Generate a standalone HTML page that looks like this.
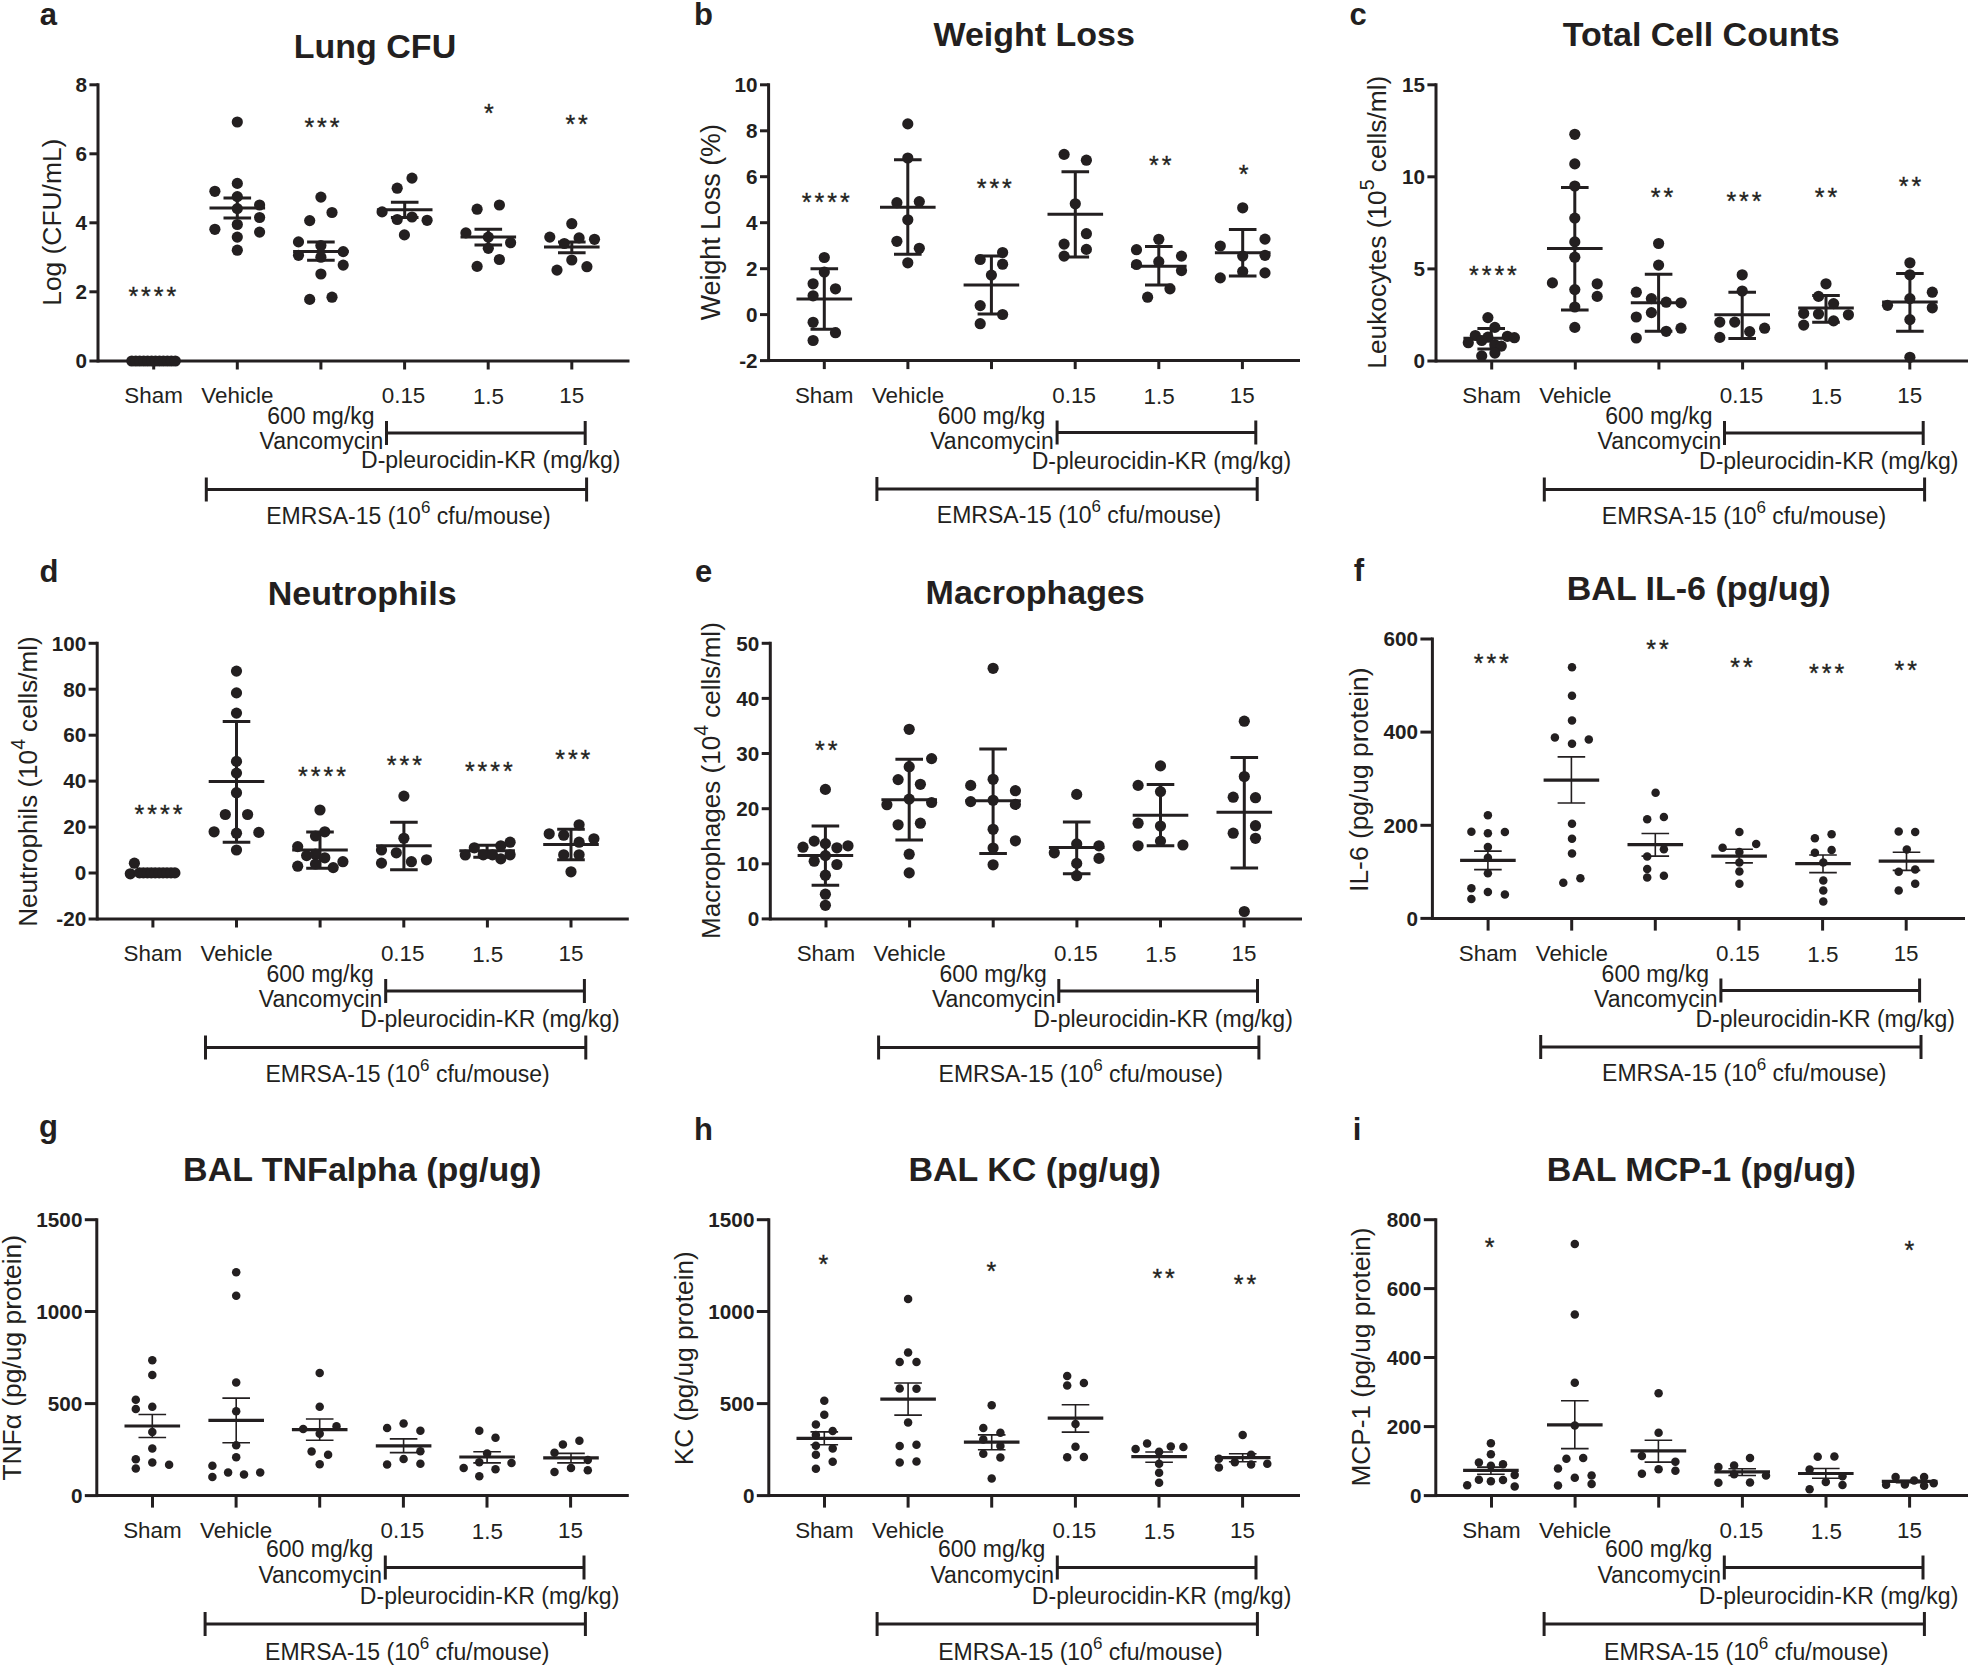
<!DOCTYPE html>
<html lang="en"><head><meta charset="utf-8"><title>Figure</title>
<style>
html,body{margin:0;padding:0;background:#fff}
svg{display:block}
svg text{font-family:"Liberation Sans",Arial,Helvetica,sans-serif;fill:#231f20;stroke:none}
svg circle{stroke:none}
</style></head>
<body>
<svg width="1968" height="1665" viewBox="0 0 1968 1665" fill="#231f20" stroke="#231f20">
<rect x="0" y="0" width="1968" height="1665" fill="#ffffff" stroke="none"/>
<g id="panel-a">
<text x="39.8" y="24.9" font-size="31" font-weight="bold">a</text>
<text x="375" y="58" font-size="34" text-anchor="middle" font-weight="bold">Lung CFU</text>
<path d="M98 83.3V361H629.5" fill="none" stroke-width="3.0"/>
<line x1="89.4" y1="84.8" x2="98" y2="84.8" stroke-width="3.0"/>
<text x="87" y="92" font-size="20.7" text-anchor="end" font-weight="bold">8</text>
<line x1="89.4" y1="153.8" x2="98" y2="153.8" stroke-width="3.0"/>
<text x="87" y="161" font-size="20.7" text-anchor="end" font-weight="bold">6</text>
<line x1="89.4" y1="222.8" x2="98" y2="222.8" stroke-width="3.0"/>
<text x="87" y="230" font-size="20.7" text-anchor="end" font-weight="bold">4</text>
<line x1="89.4" y1="291.8" x2="98" y2="291.8" stroke-width="3.0"/>
<text x="87" y="299" font-size="20.7" text-anchor="end" font-weight="bold">2</text>
<line x1="89.4" y1="361" x2="99.5" y2="361" stroke-width="3.0"/>
<text x="87" y="368.2" font-size="20.7" text-anchor="end" font-weight="bold">0</text>
<line x1="153.7" y1="361" x2="153.7" y2="369.5" stroke-width="3.0"/>
<line x1="237.3" y1="361" x2="237.3" y2="369.5" stroke-width="3.0"/>
<line x1="320.9" y1="361" x2="320.9" y2="369.5" stroke-width="3.0"/>
<line x1="404.6" y1="361" x2="404.6" y2="369.5" stroke-width="3.0"/>
<line x1="488.2" y1="361" x2="488.2" y2="369.5" stroke-width="3.0"/>
<line x1="571.8" y1="361" x2="571.8" y2="369.5" stroke-width="3.0"/>
<text transform="translate(61.2 222.2) rotate(-90)" font-size="26.4" text-anchor="middle">Log (CFU/mL)</text>
<circle cx="131.8" cy="361" r="5.6"/><circle cx="135.8" cy="361" r="5.6"/><circle cx="139.7" cy="361" r="5.6"/><circle cx="143.7" cy="361" r="5.6"/><circle cx="147.6" cy="361" r="5.6"/><circle cx="151.6" cy="361" r="5.6"/><circle cx="155.5" cy="361" r="5.6"/><circle cx="159.5" cy="361" r="5.6"/><circle cx="163.4" cy="361" r="5.6"/><circle cx="167.4" cy="361" r="5.6"/><circle cx="171.3" cy="361" r="5.6"/><circle cx="175.3" cy="361" r="5.6"/>
<path d="M223.5 198H251.1M223.5 218.1H251.1M237.3 198V218.1" fill="none" stroke-width="3.0"/>
<line x1="209.5" y1="208" x2="265.1" y2="208" stroke-width="3.0"/>
<circle cx="237.3" cy="122" r="5.6"/><circle cx="237.3" cy="183.4" r="5.6"/><circle cx="214.9" cy="191.3" r="5.6"/><circle cx="237.3" cy="196.6" r="5.6"/><circle cx="259.6" cy="205" r="5.6"/><circle cx="237.3" cy="208.6" r="5.6"/><circle cx="259.6" cy="217.5" r="5.6"/><circle cx="237.3" cy="224.5" r="5.6"/><circle cx="214.9" cy="229.3" r="5.6"/><circle cx="259.6" cy="232.1" r="5.6"/><circle cx="237.3" cy="237.1" r="5.6"/><circle cx="237.3" cy="250.2" r="5.6"/>
<path d="M307.1 242.1H334.7M307.1 260.3H334.7M320.9 242.1V260.3" fill="none" stroke-width="3.0"/>
<line x1="293.1" y1="251.4" x2="348.7" y2="251.4" stroke-width="3.0"/>
<circle cx="320.9" cy="197.1" r="5.6"/><circle cx="332" cy="212.5" r="5.6"/><circle cx="309.7" cy="220.6" r="5.6"/><circle cx="298.5" cy="241.9" r="5.6"/><circle cx="320.9" cy="245.5" r="5.6"/><circle cx="343.2" cy="251.6" r="5.6"/><circle cx="298.5" cy="255.3" r="5.6"/><circle cx="320.9" cy="257.2" r="5.6"/><circle cx="343.2" cy="265.1" r="5.6"/><circle cx="320.9" cy="274" r="5.6"/><circle cx="332" cy="297.2" r="5.6"/><circle cx="309.7" cy="299.4" r="5.6"/>
<path d="M390.9 202.2H418.5M390.9 217.5H418.5M404.7 202.2V217.5" fill="none" stroke-width="3.0"/>
<line x1="376.9" y1="209.7" x2="432.5" y2="209.7" stroke-width="3.0"/>
<circle cx="412" cy="178.1" r="5.6"/><circle cx="397.2" cy="188.2" r="5.6"/><circle cx="382.1" cy="211.9" r="5.6"/><circle cx="397.2" cy="219.5" r="5.6"/><circle cx="412" cy="217" r="5.6"/><circle cx="427.1" cy="220.3" r="5.6"/><circle cx="404.4" cy="234.9" r="5.6"/>
<path d="M474.5 229.3H502.1M474.5 244.9H502.1M488.3 229.3V244.9" fill="none" stroke-width="3.0"/>
<line x1="460.5" y1="237.1" x2="516.1" y2="237.1" stroke-width="3.0"/>
<circle cx="499.4" cy="205" r="5.6"/><circle cx="477.1" cy="209.2" r="5.6"/><circle cx="465.9" cy="232.9" r="5.6"/><circle cx="488.3" cy="237.1" r="5.6"/><circle cx="510.6" cy="242.7" r="5.6"/><circle cx="488.3" cy="248.3" r="5.6"/><circle cx="499.4" cy="259.5" r="5.6"/><circle cx="477.1" cy="266.4" r="5.6"/>
<path d="M558 241.9H585.6M558 252.8H585.6M571.8 241.9V252.8" fill="none" stroke-width="3.0"/>
<line x1="544" y1="246.9" x2="599.6" y2="246.9" stroke-width="3.0"/>
<circle cx="571.8" cy="223.7" r="5.6"/><circle cx="549.8" cy="237.1" r="5.6"/><circle cx="579.1" cy="237.9" r="5.6"/><circle cx="594.5" cy="239.3" r="5.6"/><circle cx="564.3" cy="243.5" r="5.6"/><circle cx="571.8" cy="260" r="5.6"/><circle cx="586.9" cy="266.7" r="5.6"/><circle cx="557" cy="270.1" r="5.6"/>
<text x="128.4" y="305.2" font-size="25" letter-spacing="2.97" style="stroke:#231f20;stroke-width:0.35px">****</text>
<text x="304.4" y="135.9" font-size="25" letter-spacing="2.97" style="stroke:#231f20;stroke-width:0.35px">***</text>
<text x="483.9" y="121.9" font-size="25" letter-spacing="2.97" style="stroke:#231f20;stroke-width:0.35px">*</text>
<text x="565.4" y="133.1" font-size="25" letter-spacing="2.97" style="stroke:#231f20;stroke-width:0.35px">**</text>
<text x="153.6" y="402.9" font-size="22.4" text-anchor="middle">Sham</text>
<text x="237.4" y="402.9" font-size="22.4" text-anchor="middle">Vehicle</text>
<text x="403.5" y="402.9" font-size="22.4" text-anchor="middle">0.15</text>
<text x="488.5" y="404.2" font-size="22.4" text-anchor="middle">1.5</text>
<text x="571.7" y="402.9" font-size="22.4" text-anchor="middle">15</text>
<text x="320.9" y="424" font-size="23" text-anchor="middle">600 mg/kg</text>
<text x="321.4" y="449.2" font-size="23" text-anchor="middle">Vancomycin</text>
<text x="490.8" y="467.8" font-size="23" text-anchor="middle">D-pleurocidin-KR (mg/kg)</text>
<path d="M386.5 421V445M386.5 433H585.2M585.2 421V445" fill="none" stroke-width="3.0"/>
<path d="M206.3 477.5V501.5M206.3 489.5H586.6M586.6 477.5V501.5" fill="none" stroke-width="3.0"/>
<text x="408.4" y="523.6" font-size="23" text-anchor="middle">EMRSA-15 (10<tspan font-size="17" dy="-10.8">6</tspan><tspan dy="10.8"> cfu/mouse)</tspan></text>
</g>
<g id="panel-b">
<text x="694" y="24.7" font-size="31" font-weight="bold">b</text>
<text x="1034.2" y="46" font-size="34" text-anchor="middle" font-weight="bold">Weight Loss</text>
<path d="M768.6 83.3V360.6H1300" fill="none" stroke-width="3.0"/>
<line x1="760" y1="84.8" x2="768.6" y2="84.8" stroke-width="3.0"/>
<text x="757.6" y="92" font-size="20.7" text-anchor="end" font-weight="bold">10</text>
<line x1="760" y1="130.8" x2="768.6" y2="130.8" stroke-width="3.0"/>
<text x="757.6" y="138" font-size="20.7" text-anchor="end" font-weight="bold">8</text>
<line x1="760" y1="176.7" x2="768.6" y2="176.7" stroke-width="3.0"/>
<text x="757.6" y="183.9" font-size="20.7" text-anchor="end" font-weight="bold">6</text>
<line x1="760" y1="222.7" x2="768.6" y2="222.7" stroke-width="3.0"/>
<text x="757.6" y="229.9" font-size="20.7" text-anchor="end" font-weight="bold">4</text>
<line x1="760" y1="268.7" x2="768.6" y2="268.7" stroke-width="3.0"/>
<text x="757.6" y="275.9" font-size="20.7" text-anchor="end" font-weight="bold">2</text>
<line x1="760" y1="314.6" x2="768.6" y2="314.6" stroke-width="3.0"/>
<text x="757.6" y="321.8" font-size="20.7" text-anchor="end" font-weight="bold">0</text>
<line x1="760" y1="360.6" x2="770.1" y2="360.6" stroke-width="3.0"/>
<text x="757.6" y="367.8" font-size="20.7" text-anchor="end" font-weight="bold">-2</text>
<line x1="824.3" y1="360.6" x2="824.3" y2="369.1" stroke-width="3.0"/>
<line x1="907.9" y1="360.6" x2="907.9" y2="369.1" stroke-width="3.0"/>
<line x1="991.5" y1="360.6" x2="991.5" y2="369.1" stroke-width="3.0"/>
<line x1="1075.2" y1="360.6" x2="1075.2" y2="369.1" stroke-width="3.0"/>
<line x1="1158.8" y1="360.6" x2="1158.8" y2="369.1" stroke-width="3.0"/>
<line x1="1242.4" y1="360.6" x2="1242.4" y2="369.1" stroke-width="3.0"/>
<text transform="translate(719.6 222.2) rotate(-90)" font-size="26.8" text-anchor="middle">Weight Loss (%)</text>
<path d="M810.5 268.7H838.1M810.5 329.3H838.1M824.3 268.7V329.3" fill="none" stroke-width="3.0"/>
<line x1="796.5" y1="299.1" x2="852.1" y2="299.1" stroke-width="3.0"/>
<circle cx="824.3" cy="257.5" r="5.6"/><circle cx="824.3" cy="272" r="5.6"/><circle cx="813.1" cy="283.8" r="5.6"/><circle cx="835.5" cy="288.8" r="5.6"/><circle cx="813.1" cy="295.8" r="5.6"/><circle cx="813.1" cy="322.3" r="5.6"/><circle cx="835.5" cy="332.7" r="5.6"/><circle cx="813.1" cy="340.5" r="5.6"/>
<path d="M894 159.7H921.6M894 254.2H921.6M907.8 159.7V254.2" fill="none" stroke-width="3.0"/>
<line x1="880" y1="207.2" x2="935.6" y2="207.2" stroke-width="3.0"/>
<circle cx="907.8" cy="123.9" r="5.6"/><circle cx="907.8" cy="158" r="5.6"/><circle cx="896.9" cy="202.7" r="5.6"/><circle cx="919.3" cy="201.6" r="5.6"/><circle cx="907.8" cy="219.8" r="5.6"/><circle cx="896.9" cy="241.3" r="5.6"/><circle cx="919.3" cy="248.3" r="5.6"/><circle cx="907.8" cy="262.8" r="5.6"/>
<path d="M977.6 256.1H1005.2M977.6 314H1005.2M991.4 256.1V314" fill="none" stroke-width="3.0"/>
<line x1="963.6" y1="284.9" x2="1019.2" y2="284.9" stroke-width="3.0"/>
<circle cx="1002.6" cy="252.5" r="5.6"/><circle cx="980.2" cy="259.5" r="5.6"/><circle cx="1002.6" cy="264.2" r="5.6"/><circle cx="991.4" cy="275.1" r="5.6"/><circle cx="980.2" cy="305.6" r="5.6"/><circle cx="1002.6" cy="314.5" r="5.6"/><circle cx="980.2" cy="323.7" r="5.6"/>
<path d="M1061.5 171.7H1089.1M1061.5 256.9H1089.1M1075.3 171.7V256.9" fill="none" stroke-width="3.0"/>
<line x1="1047.5" y1="214.2" x2="1103.1" y2="214.2" stroke-width="3.0"/>
<circle cx="1064.1" cy="154.4" r="5.6"/><circle cx="1086.4" cy="160.2" r="5.6"/><circle cx="1075.3" cy="203.8" r="5.6"/><circle cx="1086.4" cy="233.7" r="5.6"/><circle cx="1064.1" cy="244.1" r="5.6"/><circle cx="1086.4" cy="249.4" r="5.6"/><circle cx="1064.1" cy="256.1" r="5.6"/>
<path d="M1145 246.6H1172.6M1145 284.9H1172.6M1158.8 246.6V284.9" fill="none" stroke-width="3.0"/>
<line x1="1131" y1="266.2" x2="1186.6" y2="266.2" stroke-width="3.0"/>
<circle cx="1158.8" cy="239.3" r="5.6"/><circle cx="1136.5" cy="249.7" r="5.6"/><circle cx="1181.5" cy="256.1" r="5.6"/><circle cx="1158.8" cy="261.7" r="5.6"/><circle cx="1136.5" cy="264.5" r="5.6"/><circle cx="1181.5" cy="270.6" r="5.6"/><circle cx="1170" cy="288.8" r="5.6"/><circle cx="1147.6" cy="297.2" r="5.6"/>
<path d="M1228.9 229.6H1256.5M1228.9 276H1256.5M1242.7 229.6V276" fill="none" stroke-width="3.0"/>
<line x1="1214.9" y1="252.8" x2="1270.5" y2="252.8" stroke-width="3.0"/>
<circle cx="1242.7" cy="207.8" r="5.6"/><circle cx="1265" cy="239.1" r="5.6"/><circle cx="1220.3" cy="246" r="5.6"/><circle cx="1242.7" cy="256.1" r="5.6"/><circle cx="1265" cy="255.3" r="5.6"/><circle cx="1242.7" cy="271.5" r="5.6"/><circle cx="1265" cy="272.9" r="5.6"/><circle cx="1220.3" cy="277.9" r="5.6"/>
<text x="801.8" y="211.4" font-size="25" letter-spacing="2.97" style="stroke:#231f20;stroke-width:0.35px">****</text>
<text x="976.7" y="197.4" font-size="25" letter-spacing="2.97" style="stroke:#231f20;stroke-width:0.35px">***</text>
<text x="1149" y="173.6" font-size="25" letter-spacing="2.97" style="stroke:#231f20;stroke-width:0.35px">**</text>
<text x="1238.7" y="182.6" font-size="25" letter-spacing="2.97" style="stroke:#231f20;stroke-width:0.35px">*</text>
<text x="824.2" y="402.5" font-size="22.4" text-anchor="middle">Sham</text>
<text x="908" y="402.5" font-size="22.4" text-anchor="middle">Vehicle</text>
<text x="1074.1" y="402.5" font-size="22.4" text-anchor="middle">0.15</text>
<text x="1159.1" y="403.8" font-size="22.4" text-anchor="middle">1.5</text>
<text x="1242.3" y="402.5" font-size="22.4" text-anchor="middle">15</text>
<text x="991.5" y="423.6" font-size="23" text-anchor="middle">600 mg/kg</text>
<text x="992" y="448.8" font-size="23" text-anchor="middle">Vancomycin</text>
<text x="1161.4" y="469" font-size="23" text-anchor="middle">D-pleurocidin-KR (mg/kg)</text>
<path d="M1057.1 420.6V444.6M1057.1 432.6H1255.8M1255.8 420.6V444.6" fill="none" stroke-width="3.0"/>
<path d="M876.9 477.1V501.1M876.9 489.1H1257.2M1257.2 477.1V501.1" fill="none" stroke-width="3.0"/>
<text x="1079" y="523.2" font-size="23" text-anchor="middle">EMRSA-15 (10<tspan font-size="17" dy="-10.8">6</tspan><tspan dy="10.8"> cfu/mouse)</tspan></text>
</g>
<g id="panel-c">
<text x="1349.4" y="24.7" font-size="31" font-weight="bold">c</text>
<text x="1701.2" y="46.3" font-size="34" text-anchor="middle" font-weight="bold">Total Cell Counts</text>
<path d="M1436 83.3V361H1968" fill="none" stroke-width="3.0"/>
<line x1="1427.4" y1="84.8" x2="1436" y2="84.8" stroke-width="3.0"/>
<text x="1425" y="92" font-size="20.7" text-anchor="end" font-weight="bold">15</text>
<line x1="1427.4" y1="176.8" x2="1436" y2="176.8" stroke-width="3.0"/>
<text x="1425" y="184" font-size="20.7" text-anchor="end" font-weight="bold">10</text>
<line x1="1427.4" y1="268.9" x2="1436" y2="268.9" stroke-width="3.0"/>
<text x="1425" y="276.1" font-size="20.7" text-anchor="end" font-weight="bold">5</text>
<line x1="1427.4" y1="361" x2="1437.5" y2="361" stroke-width="3.0"/>
<text x="1425" y="368.2" font-size="20.7" text-anchor="end" font-weight="bold">0</text>
<line x1="1491.7" y1="361" x2="1491.7" y2="369.5" stroke-width="3.0"/>
<line x1="1575.3" y1="361" x2="1575.3" y2="369.5" stroke-width="3.0"/>
<line x1="1658.9" y1="361" x2="1658.9" y2="369.5" stroke-width="3.0"/>
<line x1="1742.6" y1="361" x2="1742.6" y2="369.5" stroke-width="3.0"/>
<line x1="1826.2" y1="361" x2="1826.2" y2="369.5" stroke-width="3.0"/>
<line x1="1909.8" y1="361" x2="1909.8" y2="369.5" stroke-width="3.0"/>
<text transform="translate(1385.8 222.2) rotate(-90)" font-size="26.3" text-anchor="middle">Leukocytes (10<tspan font-size="19.5" dy="-11.6">5</tspan><tspan dy="11.6"> cells/ml)</tspan></text>
<path d="M1477.4 328.5H1505M1477.4 348.9H1505M1491.2 328.5V348.9" fill="none" stroke-width="3.0"/>
<line x1="1463.4" y1="338.3" x2="1519" y2="338.3" stroke-width="3.0"/>
<circle cx="1487.9" cy="317.6" r="5.6"/><circle cx="1494.9" cy="327.4" r="5.6"/><circle cx="1475.3" cy="335.5" r="5.6"/><circle cx="1507.4" cy="336.3" r="5.6"/><circle cx="1514.4" cy="337.7" r="5.6"/><circle cx="1487.9" cy="337.2" r="5.6"/><circle cx="1481.7" cy="340.5" r="5.6"/><circle cx="1468.3" cy="342.7" r="5.6"/><circle cx="1494.9" cy="344.7" r="5.6"/><circle cx="1501.3" cy="346.1" r="5.6"/><circle cx="1494.9" cy="353.1" r="5.6"/><circle cx="1481.7" cy="355.9" r="5.6"/>
<path d="M1561 187.4H1588.6M1561 310H1588.6M1574.8 187.4V310" fill="none" stroke-width="3.0"/>
<line x1="1547" y1="248.6" x2="1602.6" y2="248.6" stroke-width="3.0"/>
<circle cx="1574.8" cy="134.3" r="5.6"/><circle cx="1574.8" cy="163.9" r="5.6"/><circle cx="1574.8" cy="186" r="5.6"/><circle cx="1574.8" cy="218.1" r="5.6"/><circle cx="1574.8" cy="241.9" r="5.6"/><circle cx="1574.8" cy="257.2" r="5.6"/><circle cx="1552.4" cy="282.9" r="5.6"/><circle cx="1597.2" cy="283.8" r="5.6"/><circle cx="1574.8" cy="289.6" r="5.6"/><circle cx="1597.2" cy="296.4" r="5.6"/><circle cx="1574.8" cy="307" r="5.6"/><circle cx="1574.8" cy="327.4" r="5.6"/>
<path d="M1644.8 274.3H1672.4M1644.8 331.3H1672.4M1658.6 274.3V331.3" fill="none" stroke-width="3.0"/>
<line x1="1630.8" y1="302.8" x2="1686.4" y2="302.8" stroke-width="3.0"/>
<circle cx="1658.6" cy="243.5" r="5.6"/><circle cx="1658.6" cy="265.1" r="5.6"/><circle cx="1636.3" cy="292.2" r="5.6"/><circle cx="1651.4" cy="298.6" r="5.6"/><circle cx="1666.2" cy="302.2" r="5.6"/><circle cx="1681" cy="302.8" r="5.6"/><circle cx="1651.4" cy="312.6" r="5.6"/><circle cx="1636.3" cy="317" r="5.6"/><circle cx="1681" cy="328.2" r="5.6"/><circle cx="1666.2" cy="331.3" r="5.6"/><circle cx="1636.3" cy="338" r="5.6"/>
<path d="M1728.4 292.2H1756M1728.4 338.6H1756M1742.2 292.2V338.6" fill="none" stroke-width="3.0"/>
<line x1="1714.4" y1="314.8" x2="1770" y2="314.8" stroke-width="3.0"/>
<circle cx="1742.2" cy="274.8" r="5.6"/><circle cx="1742.2" cy="291" r="5.6"/><circle cx="1719.8" cy="322.1" r="5.6"/><circle cx="1734.7" cy="322.1" r="5.6"/><circle cx="1764.6" cy="328.2" r="5.6"/><circle cx="1749.7" cy="331.6" r="5.6"/><circle cx="1719.8" cy="337.4" r="5.6"/>
<path d="M1812.2 295.5H1839.8M1812.2 322.3H1839.8M1826 295.5V322.3" fill="none" stroke-width="3.0"/>
<line x1="1798.2" y1="308.1" x2="1853.8" y2="308.1" stroke-width="3.0"/>
<circle cx="1826" cy="283.8" r="5.6"/><circle cx="1818.5" cy="296.4" r="5.6"/><circle cx="1833.6" cy="303.6" r="5.6"/><circle cx="1803.7" cy="313.4" r="5.6"/><circle cx="1818.5" cy="314" r="5.6"/><circle cx="1848.4" cy="314.8" r="5.6"/><circle cx="1833.6" cy="320.9" r="5.6"/><circle cx="1803.7" cy="325.1" r="5.6"/>
<path d="M1896.1 273.4H1923.7M1896.1 331.3H1923.7M1909.9 273.4V331.3" fill="none" stroke-width="3.0"/>
<line x1="1882.1" y1="301.9" x2="1937.7" y2="301.9" stroke-width="3.0"/>
<circle cx="1909.9" cy="262.8" r="5.6"/><circle cx="1909.9" cy="274.8" r="5.6"/><circle cx="1932.3" cy="292.2" r="5.6"/><circle cx="1909.9" cy="298.6" r="5.6"/><circle cx="1887.5" cy="305.3" r="5.6"/><circle cx="1932.3" cy="307.8" r="5.6"/><circle cx="1909.9" cy="319.6" r="5.6"/><circle cx="1909.9" cy="357.3" r="5.6"/>
<text x="1469" y="283.5" font-size="25" letter-spacing="2.97" style="stroke:#231f20;stroke-width:0.35px">****</text>
<text x="1650.8" y="206.3" font-size="25" letter-spacing="2.97" style="stroke:#231f20;stroke-width:0.35px">**</text>
<text x="1726.4" y="210" font-size="25" letter-spacing="2.97" style="stroke:#231f20;stroke-width:0.35px">***</text>
<text x="1814.8" y="206.3" font-size="25" letter-spacing="2.97" style="stroke:#231f20;stroke-width:0.35px">**</text>
<text x="1898.7" y="194.6" font-size="25" letter-spacing="2.97" style="stroke:#231f20;stroke-width:0.35px">**</text>
<text x="1491.6" y="402.9" font-size="22.4" text-anchor="middle">Sham</text>
<text x="1575.4" y="402.9" font-size="22.4" text-anchor="middle">Vehicle</text>
<text x="1741.5" y="402.9" font-size="22.4" text-anchor="middle">0.15</text>
<text x="1826.5" y="404.2" font-size="22.4" text-anchor="middle">1.5</text>
<text x="1909.7" y="402.9" font-size="22.4" text-anchor="middle">15</text>
<text x="1658.9" y="424" font-size="23" text-anchor="middle">600 mg/kg</text>
<text x="1659.4" y="449.2" font-size="23" text-anchor="middle">Vancomycin</text>
<text x="1828.8" y="469.4" font-size="23" text-anchor="middle">D-pleurocidin-KR (mg/kg)</text>
<path d="M1724.5 421V445M1724.5 433H1923.2M1923.2 421V445" fill="none" stroke-width="3.0"/>
<path d="M1544.3 477.5V501.5M1544.3 489.5H1924.6M1924.6 477.5V501.5" fill="none" stroke-width="3.0"/>
<text x="1744" y="523.6" font-size="23" text-anchor="middle">EMRSA-15 (10<tspan font-size="17" dy="-10.8">6</tspan><tspan dy="10.8"> cfu/mouse)</tspan></text>
</g>
<g id="panel-d">
<text x="39.6" y="582.4" font-size="31" font-weight="bold">d</text>
<text x="362.2" y="605.3" font-size="34" text-anchor="middle" font-weight="bold">Neutrophils</text>
<path d="M97.2 641.8V919H628.8" fill="none" stroke-width="3.0"/>
<line x1="88.6" y1="643.3" x2="97.2" y2="643.3" stroke-width="3.0"/>
<text x="86.2" y="650.5" font-size="20.7" text-anchor="end" font-weight="bold">100</text>
<line x1="88.6" y1="689.2" x2="97.2" y2="689.2" stroke-width="3.0"/>
<text x="86.2" y="696.5" font-size="20.7" text-anchor="end" font-weight="bold">80</text>
<line x1="88.6" y1="735.2" x2="97.2" y2="735.2" stroke-width="3.0"/>
<text x="86.2" y="742.4" font-size="20.7" text-anchor="end" font-weight="bold">60</text>
<line x1="88.6" y1="781.1" x2="97.2" y2="781.1" stroke-width="3.0"/>
<text x="86.2" y="788.4" font-size="20.7" text-anchor="end" font-weight="bold">40</text>
<line x1="88.6" y1="827.1" x2="97.2" y2="827.1" stroke-width="3.0"/>
<text x="86.2" y="834.3" font-size="20.7" text-anchor="end" font-weight="bold">20</text>
<line x1="88.6" y1="873" x2="97.2" y2="873" stroke-width="3.0"/>
<text x="86.2" y="880.2" font-size="20.7" text-anchor="end" font-weight="bold">0</text>
<line x1="88.6" y1="919" x2="98.7" y2="919" stroke-width="3.0"/>
<text x="86.2" y="926.2" font-size="20.7" text-anchor="end" font-weight="bold">-20</text>
<line x1="152.9" y1="919" x2="152.9" y2="927.5" stroke-width="3.0"/>
<line x1="236.5" y1="919" x2="236.5" y2="927.5" stroke-width="3.0"/>
<line x1="320.1" y1="919" x2="320.1" y2="927.5" stroke-width="3.0"/>
<line x1="403.8" y1="919" x2="403.8" y2="927.5" stroke-width="3.0"/>
<line x1="487.4" y1="919" x2="487.4" y2="927.5" stroke-width="3.0"/>
<line x1="571" y1="919" x2="571" y2="927.5" stroke-width="3.0"/>
<text transform="translate(36.5 781.5) rotate(-90)" font-size="26.1" text-anchor="middle">Neutrophils (10<tspan font-size="19.3" dy="-11.5">4</tspan><tspan dy="11.5"> cells/ml)</tspan></text>
<circle cx="134.4" cy="863.2" r="5.6"/><circle cx="130.3" cy="873.8" r="5.6"/><circle cx="139.5" cy="872.9" r="5.6"/><circle cx="143.4" cy="872.9" r="5.6"/><circle cx="147.4" cy="872.9" r="5.6"/><circle cx="151.3" cy="872.9" r="5.6"/><circle cx="155.2" cy="872.9" r="5.6"/><circle cx="159.2" cy="872.9" r="5.6"/><circle cx="163.1" cy="872.9" r="5.6"/><circle cx="167" cy="872.9" r="5.6"/><circle cx="171" cy="872.9" r="5.6"/><circle cx="174.9" cy="872.9" r="5.6"/>
<path d="M222.7 721.4H250.3M222.7 842.2H250.3M236.5 721.4V842.2" fill="none" stroke-width="3.0"/>
<line x1="208.7" y1="781.5" x2="264.3" y2="781.5" stroke-width="3.0"/>
<circle cx="236.5" cy="671.1" r="5.6"/><circle cx="236.5" cy="692.9" r="5.6"/><circle cx="236.5" cy="713.1" r="5.6"/><circle cx="236.5" cy="761.4" r="5.6"/><circle cx="236.5" cy="773.1" r="5.6"/><circle cx="236.5" cy="792.7" r="5.6"/><circle cx="225.3" cy="814.5" r="5.6"/><circle cx="247.6" cy="814.5" r="5.6"/><circle cx="214.1" cy="831.8" r="5.6"/><circle cx="236.5" cy="833.2" r="5.6"/><circle cx="258.8" cy="832.4" r="5.6"/><circle cx="236.5" cy="850" r="5.6"/>
<path d="M306.2 832.1H333.8M306.2 868.2H333.8M320 832.1V868.2" fill="none" stroke-width="3.0"/>
<line x1="292.2" y1="850" x2="347.8" y2="850" stroke-width="3.0"/>
<circle cx="320" cy="810" r="5.6"/><circle cx="324.8" cy="831.8" r="5.6"/><circle cx="315.5" cy="836" r="5.6"/><circle cx="297.7" cy="846.6" r="5.6"/><circle cx="306.6" cy="855.6" r="5.6"/><circle cx="315.5" cy="854.2" r="5.6"/><circle cx="324.8" cy="857.8" r="5.6"/><circle cx="342.9" cy="861.7" r="5.6"/><circle cx="315.5" cy="864" r="5.6"/><circle cx="297.7" cy="866.2" r="5.6"/><circle cx="333.2" cy="867.6" r="5.6"/>
<path d="M390.1 822.3H417.7M390.1 869.8H417.7M403.9 822.3V869.8" fill="none" stroke-width="3.0"/>
<line x1="376.1" y1="845.8" x2="431.7" y2="845.8" stroke-width="3.0"/>
<circle cx="403.9" cy="796.1" r="5.6"/><circle cx="403.9" cy="838.3" r="5.6"/><circle cx="381.5" cy="850" r="5.6"/><circle cx="396.3" cy="852.8" r="5.6"/><circle cx="426.5" cy="859.8" r="5.6"/><circle cx="411.4" cy="861.7" r="5.6"/><circle cx="381.5" cy="863.1" r="5.6"/>
<path d="M473.3 845.2H500.9M473.3 857.3H500.9M487.1 845.2V857.3" fill="none" stroke-width="3.0"/>
<line x1="459.3" y1="850.8" x2="514.9" y2="850.8" stroke-width="3.0"/>
<circle cx="510.1" cy="842.2" r="5.6"/><circle cx="500.8" cy="845.8" r="5.6"/><circle cx="474.3" cy="847.8" r="5.6"/><circle cx="465.3" cy="855" r="5.6"/><circle cx="483.2" cy="854.8" r="5.6"/><circle cx="492.5" cy="854.8" r="5.6"/><circle cx="510.1" cy="854.8" r="5.6"/><circle cx="500.8" cy="858.9" r="5.6"/>
<path d="M557.2 829.3H584.8M557.2 859.8H584.8M571 829.3V859.8" fill="none" stroke-width="3.0"/>
<line x1="543.2" y1="844.4" x2="598.8" y2="844.4" stroke-width="3.0"/>
<circle cx="579.1" cy="824.8" r="5.6"/><circle cx="549.2" cy="833.8" r="5.6"/><circle cx="563.7" cy="835.2" r="5.6"/><circle cx="593.9" cy="838.8" r="5.6"/><circle cx="579.1" cy="842.2" r="5.6"/><circle cx="563.7" cy="854.8" r="5.6"/><circle cx="579.1" cy="854.8" r="5.6"/><circle cx="571" cy="871.8" r="5.6"/>
<text x="134.6" y="822.9" font-size="25" letter-spacing="2.97" style="stroke:#231f20;stroke-width:0.35px">****</text>
<text x="298.1" y="784.6" font-size="25" letter-spacing="2.97" style="stroke:#231f20;stroke-width:0.35px">****</text>
<text x="386.8" y="774" font-size="25" letter-spacing="2.97" style="stroke:#231f20;stroke-width:0.35px">***</text>
<text x="464.9" y="779.6" font-size="25" letter-spacing="2.97" style="stroke:#231f20;stroke-width:0.35px">****</text>
<text x="555.2" y="767.8" font-size="25" letter-spacing="2.97" style="stroke:#231f20;stroke-width:0.35px">***</text>
<text x="152.8" y="960.9" font-size="22.4" text-anchor="middle">Sham</text>
<text x="236.6" y="960.9" font-size="22.4" text-anchor="middle">Vehicle</text>
<text x="402.7" y="960.9" font-size="22.4" text-anchor="middle">0.15</text>
<text x="487.7" y="962.2" font-size="22.4" text-anchor="middle">1.5</text>
<text x="570.9" y="960.9" font-size="22.4" text-anchor="middle">15</text>
<text x="320.1" y="982" font-size="23" text-anchor="middle">600 mg/kg</text>
<text x="320.6" y="1007.2" font-size="23" text-anchor="middle">Vancomycin</text>
<text x="490" y="1027.4" font-size="23" text-anchor="middle">D-pleurocidin-KR (mg/kg)</text>
<path d="M385.7 979V1003M385.7 991H584.4M584.4 979V1003" fill="none" stroke-width="3.0"/>
<path d="M205.5 1035.5V1059.5M205.5 1047.5H585.8M585.8 1035.5V1059.5" fill="none" stroke-width="3.0"/>
<text x="407.6" y="1081.6" font-size="23" text-anchor="middle">EMRSA-15 (10<tspan font-size="17" dy="-10.8">6</tspan><tspan dy="10.8"> cfu/mouse)</tspan></text>
</g>
<g id="panel-e">
<text x="695" y="582.4" font-size="31" font-weight="bold">e</text>
<text x="1035.2" y="603.6" font-size="34" text-anchor="middle" font-weight="bold">Macrophages</text>
<path d="M770.3 641.8V918.9H1302" fill="none" stroke-width="3.0"/>
<line x1="761.7" y1="643.3" x2="770.3" y2="643.3" stroke-width="3.0"/>
<text x="759.3" y="650.5" font-size="20.7" text-anchor="end" font-weight="bold">50</text>
<line x1="761.7" y1="698.4" x2="770.3" y2="698.4" stroke-width="3.0"/>
<text x="759.3" y="705.6" font-size="20.7" text-anchor="end" font-weight="bold">40</text>
<line x1="761.7" y1="753.5" x2="770.3" y2="753.5" stroke-width="3.0"/>
<text x="759.3" y="760.7" font-size="20.7" text-anchor="end" font-weight="bold">30</text>
<line x1="761.7" y1="808.7" x2="770.3" y2="808.7" stroke-width="3.0"/>
<text x="759.3" y="815.9" font-size="20.7" text-anchor="end" font-weight="bold">20</text>
<line x1="761.7" y1="863.8" x2="770.3" y2="863.8" stroke-width="3.0"/>
<text x="759.3" y="871" font-size="20.7" text-anchor="end" font-weight="bold">10</text>
<line x1="761.7" y1="918.9" x2="771.8" y2="918.9" stroke-width="3.0"/>
<text x="759.3" y="926.1" font-size="20.7" text-anchor="end" font-weight="bold">0</text>
<line x1="826" y1="918.9" x2="826" y2="927.4" stroke-width="3.0"/>
<line x1="909.6" y1="918.9" x2="909.6" y2="927.4" stroke-width="3.0"/>
<line x1="993.2" y1="918.9" x2="993.2" y2="927.4" stroke-width="3.0"/>
<line x1="1076.9" y1="918.9" x2="1076.9" y2="927.4" stroke-width="3.0"/>
<line x1="1160.5" y1="918.9" x2="1160.5" y2="927.4" stroke-width="3.0"/>
<line x1="1244.1" y1="918.9" x2="1244.1" y2="927.4" stroke-width="3.0"/>
<text transform="translate(719.6 780.5) rotate(-90)" font-size="26.1" text-anchor="middle">Macrophages (10<tspan font-size="19.3" dy="-11.5">4</tspan><tspan dy="11.5"> cells/ml)</tspan></text>
<path d="M811.6 826H839.2M811.6 885.2H839.2M825.4 826V885.2" fill="none" stroke-width="3.0"/>
<line x1="797.6" y1="855.6" x2="853.2" y2="855.6" stroke-width="3.0"/>
<circle cx="825.4" cy="789.4" r="5.6"/><circle cx="814.2" cy="841.1" r="5.6"/><circle cx="825.4" cy="843.6" r="5.6"/><circle cx="803" cy="847.2" r="5.6"/><circle cx="836.9" cy="847.8" r="5.6"/><circle cx="848" cy="845.8" r="5.6"/><circle cx="825.4" cy="855.6" r="5.6"/><circle cx="814.2" cy="861.2" r="5.6"/><circle cx="836.9" cy="864.5" r="5.6"/><circle cx="825.4" cy="875.2" r="5.6"/><circle cx="825.4" cy="894.2" r="5.6"/><circle cx="825.4" cy="905.3" r="5.6"/>
<path d="M895.4 759.2H923M895.4 839.9H923M909.2 759.2V839.9" fill="none" stroke-width="3.0"/>
<line x1="881.4" y1="799.7" x2="937" y2="799.7" stroke-width="3.0"/>
<circle cx="909.2" cy="729.3" r="5.6"/><circle cx="931.6" cy="758.6" r="5.6"/><circle cx="909.2" cy="766.7" r="5.6"/><circle cx="898.1" cy="779.6" r="5.6"/><circle cx="920.4" cy="784.3" r="5.6"/><circle cx="909.2" cy="799.1" r="5.6"/><circle cx="886.9" cy="804.7" r="5.6"/><circle cx="931.6" cy="802.5" r="5.6"/><circle cx="898.1" cy="824.8" r="5.6"/><circle cx="920.4" cy="823.2" r="5.6"/><circle cx="909.2" cy="854.2" r="5.6"/><circle cx="909.2" cy="872.9" r="5.6"/>
<path d="M979.3 749.1H1006.9M979.3 853.4H1006.9M993.1 749.1V853.4" fill="none" stroke-width="3.0"/>
<line x1="965.3" y1="800.8" x2="1020.9" y2="800.8" stroke-width="3.0"/>
<circle cx="993.1" cy="668.3" r="5.6"/><circle cx="993.1" cy="779.3" r="5.6"/><circle cx="970.7" cy="785.4" r="5.6"/><circle cx="1015.4" cy="790.7" r="5.6"/><circle cx="970.7" cy="801.6" r="5.6"/><circle cx="993.1" cy="800.3" r="5.6"/><circle cx="1015.4" cy="804.4" r="5.6"/><circle cx="993.1" cy="829.3" r="5.6"/><circle cx="1015.4" cy="840.8" r="5.6"/><circle cx="993.1" cy="848" r="5.6"/><circle cx="993.1" cy="864.8" r="5.6"/>
<path d="M1062.9 822.1H1090.5M1062.9 873.8H1090.5M1076.7 822.1V873.8" fill="none" stroke-width="3.0"/>
<line x1="1048.9" y1="847.5" x2="1104.5" y2="847.5" stroke-width="3.0"/>
<circle cx="1076.7" cy="794.4" r="5.6"/><circle cx="1076.7" cy="843.9" r="5.6"/><circle cx="1099" cy="845.8" r="5.6"/><circle cx="1054.3" cy="852.8" r="5.6"/><circle cx="1099" cy="858.4" r="5.6"/><circle cx="1076.7" cy="863.4" r="5.6"/><circle cx="1076.7" cy="875.7" r="5.6"/>
<path d="M1146.7 784.6H1174.3M1146.7 845.8H1174.3M1160.5 784.6V845.8" fill="none" stroke-width="3.0"/>
<line x1="1132.7" y1="815.3" x2="1188.3" y2="815.3" stroke-width="3.0"/>
<circle cx="1160.5" cy="765.9" r="5.6"/><circle cx="1138.1" cy="785.4" r="5.6"/><circle cx="1160.5" cy="791.6" r="5.6"/><circle cx="1138.1" cy="823.2" r="5.6"/><circle cx="1160.5" cy="826" r="5.6"/><circle cx="1160.5" cy="841.1" r="5.6"/><circle cx="1138.1" cy="845.8" r="5.6"/><circle cx="1182.9" cy="845" r="5.6"/>
<path d="M1230.5 757.5H1258.1M1230.5 867.9H1258.1M1244.3 757.5V867.9" fill="none" stroke-width="3.0"/>
<line x1="1216.5" y1="812.3" x2="1272.1" y2="812.3" stroke-width="3.0"/>
<circle cx="1244.3" cy="721.2" r="5.6"/><circle cx="1244.3" cy="776.5" r="5.6"/><circle cx="1233.2" cy="797.2" r="5.6"/><circle cx="1255.5" cy="797.7" r="5.6"/><circle cx="1255.5" cy="825.7" r="5.6"/><circle cx="1233.2" cy="833.2" r="5.6"/><circle cx="1255.5" cy="838.3" r="5.6"/><circle cx="1244.3" cy="911.5" r="5.6"/>
<text x="815" y="759.4" font-size="25" letter-spacing="2.97" style="stroke:#231f20;stroke-width:0.35px">**</text>
<text x="825.9" y="960.8" font-size="22.4" text-anchor="middle">Sham</text>
<text x="909.7" y="960.8" font-size="22.4" text-anchor="middle">Vehicle</text>
<text x="1075.8" y="960.8" font-size="22.4" text-anchor="middle">0.15</text>
<text x="1160.8" y="962.1" font-size="22.4" text-anchor="middle">1.5</text>
<text x="1244" y="960.8" font-size="22.4" text-anchor="middle">15</text>
<text x="993.2" y="981.9" font-size="23" text-anchor="middle">600 mg/kg</text>
<text x="993.7" y="1007.1" font-size="23" text-anchor="middle">Vancomycin</text>
<text x="1163.1" y="1027.3" font-size="23" text-anchor="middle">D-pleurocidin-KR (mg/kg)</text>
<path d="M1058.8 978.9V1002.9M1058.8 990.9H1257.5M1257.5 978.9V1002.9" fill="none" stroke-width="3.0"/>
<path d="M878.6 1035.4V1059.4M878.6 1047.4H1258.9M1258.9 1035.4V1059.4" fill="none" stroke-width="3.0"/>
<text x="1080.7" y="1081.5" font-size="23" text-anchor="middle">EMRSA-15 (10<tspan font-size="17" dy="-10.8">6</tspan><tspan dy="10.8"> cfu/mouse)</tspan></text>
</g>
<g id="panel-f">
<text x="1353.7" y="580.8" font-size="31" font-weight="bold">f</text>
<text x="1698.7" y="599.6" font-size="34" text-anchor="middle" font-weight="bold">BAL IL-6 (pg/ug)</text>
<path d="M1432.4 637.5V918.6H1965" fill="none" stroke-width="3.0"/>
<line x1="1420.4" y1="639" x2="1432.4" y2="639" stroke-width="3.0"/>
<text x="1418" y="646.2" font-size="20.7" text-anchor="end" font-weight="bold">600</text>
<line x1="1420.4" y1="732.1" x2="1432.4" y2="732.1" stroke-width="3.0"/>
<text x="1418" y="739.3" font-size="20.7" text-anchor="end" font-weight="bold">400</text>
<line x1="1420.4" y1="825.3" x2="1432.4" y2="825.3" stroke-width="3.0"/>
<text x="1418" y="832.5" font-size="20.7" text-anchor="end" font-weight="bold">200</text>
<line x1="1420.4" y1="918.4" x2="1432.4" y2="918.4" stroke-width="3.0"/>
<text x="1418" y="925.6" font-size="20.7" text-anchor="end" font-weight="bold">0</text>
<line x1="1488.1" y1="918.6" x2="1488.1" y2="930.6" stroke-width="3.0"/>
<line x1="1571.7" y1="918.6" x2="1571.7" y2="930.6" stroke-width="3.0"/>
<line x1="1655.3" y1="918.6" x2="1655.3" y2="930.6" stroke-width="3.0"/>
<line x1="1739" y1="918.6" x2="1739" y2="930.6" stroke-width="3.0"/>
<line x1="1822.6" y1="918.6" x2="1822.6" y2="930.6" stroke-width="3.0"/>
<line x1="1906.2" y1="918.6" x2="1906.2" y2="930.6" stroke-width="3.0"/>
<text transform="translate(1367.7 779.7) rotate(-90)" font-size="26.4" text-anchor="middle">IL-6 (pg/ug protein)</text>
<path d="M1474.1 851.1H1501.7M1474.1 869.6H1501.7M1487.9 851.1V869.6" fill="none" stroke-width="1.6"/>
<line x1="1460.1" y1="860.3" x2="1515.7" y2="860.3" stroke-width="3.2"/>
<circle cx="1487.9" cy="815.3" r="4.25"/><circle cx="1471.4" cy="831.8" r="4.25"/><circle cx="1487.9" cy="833.2" r="4.25"/><circle cx="1504.9" cy="832.1" r="4.25"/><circle cx="1487.9" cy="846.9" r="4.25"/><circle cx="1487.9" cy="857.8" r="4.25"/><circle cx="1487.9" cy="873.2" r="4.25"/><circle cx="1471.4" cy="888.3" r="4.25"/><circle cx="1487.9" cy="891.9" r="4.25"/><circle cx="1504.9" cy="894.4" r="4.25"/><circle cx="1471.4" cy="898.9" r="4.25"/>
<path d="M1557.6 756.9H1585.2M1557.6 803H1585.2M1571.4 756.9V803" fill="none" stroke-width="1.6"/>
<line x1="1543.6" y1="780.1" x2="1599.2" y2="780.1" stroke-width="3.2"/>
<circle cx="1572" cy="667.2" r="4.25"/><circle cx="1572" cy="695.7" r="4.25"/><circle cx="1572" cy="720.6" r="4.25"/><circle cx="1554.9" cy="737.4" r="4.25"/><circle cx="1588.8" cy="739.6" r="4.25"/><circle cx="1572" cy="743.8" r="4.25"/><circle cx="1572" cy="823.7" r="4.25"/><circle cx="1572" cy="838.8" r="4.25"/><circle cx="1572" cy="853.6" r="4.25"/><circle cx="1580.4" cy="878.2" r="4.25"/><circle cx="1563.3" cy="882.7" r="4.25"/>
<path d="M1641.5 833.5H1669.1M1641.5 856.1H1669.1M1655.3 833.5V856.1" fill="none" stroke-width="1.6"/>
<line x1="1627.5" y1="844.7" x2="1683.1" y2="844.7" stroke-width="3.2"/>
<circle cx="1655.6" cy="792.7" r="4.25"/><circle cx="1663.9" cy="817" r="4.25"/><circle cx="1647.2" cy="819.3" r="4.25"/><circle cx="1663.9" cy="849.2" r="4.25"/><circle cx="1647.2" cy="856.4" r="4.25"/><circle cx="1647.2" cy="869" r="4.25"/><circle cx="1663.9" cy="875.7" r="4.25"/><circle cx="1647.2" cy="877.4" r="4.25"/>
<path d="M1725.3 849.2H1752.9M1725.3 862.9H1752.9M1739.1 849.2V862.9" fill="none" stroke-width="1.6"/>
<line x1="1711.3" y1="856.1" x2="1766.9" y2="856.1" stroke-width="3.2"/>
<circle cx="1739.4" cy="832.1" r="4.25"/><circle cx="1756.2" cy="844.1" r="4.25"/><circle cx="1722.6" cy="847.8" r="4.25"/><circle cx="1739.4" cy="852" r="4.25"/><circle cx="1739.4" cy="862.6" r="4.25"/><circle cx="1739.4" cy="871.5" r="4.25"/><circle cx="1739.4" cy="883.8" r="4.25"/>
<path d="M1809.2 855H1836.8M1809.2 872.6H1836.8M1823 855V872.6" fill="none" stroke-width="1.6"/>
<line x1="1795.2" y1="863.7" x2="1850.8" y2="863.7" stroke-width="3.2"/>
<circle cx="1831.6" cy="834.3" r="4.25"/><circle cx="1814.9" cy="838.3" r="4.25"/><circle cx="1831.6" cy="850" r="4.25"/><circle cx="1814.9" cy="852.8" r="4.25"/><circle cx="1823.3" cy="862.6" r="4.25"/><circle cx="1823.3" cy="880.5" r="4.25"/><circle cx="1823.3" cy="890.5" r="4.25"/><circle cx="1823.3" cy="901.4" r="4.25"/>
<path d="M1892.7 852.2H1920.3M1892.7 870.4H1920.3M1906.5 852.2V870.4" fill="none" stroke-width="1.6"/>
<line x1="1878.7" y1="861.2" x2="1934.3" y2="861.2" stroke-width="3.2"/>
<circle cx="1898.7" cy="831.6" r="4.25"/><circle cx="1915.2" cy="832.1" r="4.25"/><circle cx="1906.8" cy="849.4" r="4.25"/><circle cx="1915.2" cy="869.6" r="4.25"/><circle cx="1898.7" cy="871.8" r="4.25"/><circle cx="1915.2" cy="883.8" r="4.25"/><circle cx="1898.7" cy="890.5" r="4.25"/>
<text x="1473.7" y="671.9" font-size="25" letter-spacing="2.97" style="stroke:#231f20;stroke-width:0.35px">***</text>
<text x="1646.3" y="658.3" font-size="25" letter-spacing="2.97" style="stroke:#231f20;stroke-width:0.35px">**</text>
<text x="1730.2" y="675.6" font-size="25" letter-spacing="2.97" style="stroke:#231f20;stroke-width:0.35px">**</text>
<text x="1809" y="682.3" font-size="25" letter-spacing="2.97" style="stroke:#231f20;stroke-width:0.35px">***</text>
<text x="1894.5" y="678.7" font-size="25" letter-spacing="2.97" style="stroke:#231f20;stroke-width:0.35px">**</text>
<text x="1488" y="960.5" font-size="22.4" text-anchor="middle">Sham</text>
<text x="1571.8" y="960.5" font-size="22.4" text-anchor="middle">Vehicle</text>
<text x="1737.9" y="960.5" font-size="22.4" text-anchor="middle">0.15</text>
<text x="1822.9" y="961.8" font-size="22.4" text-anchor="middle">1.5</text>
<text x="1906.1" y="960.5" font-size="22.4" text-anchor="middle">15</text>
<text x="1655.3" y="981.6" font-size="23" text-anchor="middle">600 mg/kg</text>
<text x="1655.8" y="1006.8" font-size="23" text-anchor="middle">Vancomycin</text>
<text x="1825.2" y="1027" font-size="23" text-anchor="middle">D-pleurocidin-KR (mg/kg)</text>
<path d="M1720.9 978.6V1002.6M1720.9 990.6H1919.6M1919.6 978.6V1002.6" fill="none" stroke-width="3.0"/>
<path d="M1540.7 1035.1V1059.1M1540.7 1047.1H1921M1921 1035.1V1059.1" fill="none" stroke-width="3.0"/>
<text x="1744.2" y="1081.2" font-size="23" text-anchor="middle">EMRSA-15 (10<tspan font-size="17" dy="-10.8">6</tspan><tspan dy="10.8"> cfu/mouse)</tspan></text>
</g>
<g id="panel-g">
<text x="39" y="1137.2" font-size="31" font-weight="bold">g</text>
<text x="362.2" y="1181.1" font-size="34" text-anchor="middle" font-weight="bold">BAL TNFalpha (pg/ug)</text>
<path d="M96.8 1218.2V1495.6H628.8" fill="none" stroke-width="3.0"/>
<line x1="84.8" y1="1219.7" x2="96.8" y2="1219.7" stroke-width="3.0"/>
<text x="82.4" y="1226.9" font-size="20.7" text-anchor="end" font-weight="bold">1500</text>
<line x1="84.8" y1="1311.5" x2="96.8" y2="1311.5" stroke-width="3.0"/>
<text x="82.4" y="1318.7" font-size="20.7" text-anchor="end" font-weight="bold">1000</text>
<line x1="84.8" y1="1403.6" x2="96.8" y2="1403.6" stroke-width="3.0"/>
<text x="82.4" y="1410.8" font-size="20.7" text-anchor="end" font-weight="bold">500</text>
<line x1="84.8" y1="1495.6" x2="98.3" y2="1495.6" stroke-width="3.0"/>
<text x="82.4" y="1502.8" font-size="20.7" text-anchor="end" font-weight="bold">0</text>
<line x1="152.5" y1="1495.6" x2="152.5" y2="1507.6" stroke-width="3.0"/>
<line x1="236.1" y1="1495.6" x2="236.1" y2="1507.6" stroke-width="3.0"/>
<line x1="319.7" y1="1495.6" x2="319.7" y2="1507.6" stroke-width="3.0"/>
<line x1="403.4" y1="1495.6" x2="403.4" y2="1507.6" stroke-width="3.0"/>
<line x1="487" y1="1495.6" x2="487" y2="1507.6" stroke-width="3.0"/>
<line x1="570.6" y1="1495.6" x2="570.6" y2="1507.6" stroke-width="3.0"/>
<text transform="translate(20.8 1357.8) rotate(-90)" font-size="26.4" text-anchor="middle">TNFα (pg/ug protein)</text>
<path d="M138.5 1414.5H166.1M138.5 1437.5H166.1M152.3 1414.5V1437.5" fill="none" stroke-width="1.6"/>
<line x1="124.5" y1="1426" x2="180.1" y2="1426" stroke-width="3.2"/>
<circle cx="152.3" cy="1360.3" r="4.25"/><circle cx="152.3" cy="1375.1" r="4.25"/><circle cx="135.8" cy="1399.7" r="4.25"/><circle cx="135.8" cy="1409" r="4.25"/><circle cx="152.3" cy="1406.7" r="4.25"/><circle cx="152.3" cy="1432.1" r="4.25"/><circle cx="152.3" cy="1448.4" r="4.25"/><circle cx="135.8" cy="1459.3" r="4.25"/><circle cx="152.3" cy="1462.6" r="4.25"/><circle cx="169.1" cy="1464.8" r="4.25"/><circle cx="135.8" cy="1468.5" r="4.25"/>
<path d="M222.4 1398.1H250M222.4 1442.8H250M236.2 1398.1V1442.8" fill="none" stroke-width="1.6"/>
<line x1="208.4" y1="1420.4" x2="264" y2="1420.4" stroke-width="3.2"/>
<circle cx="236.2" cy="1272.3" r="4.25"/><circle cx="236.2" cy="1295.8" r="4.25"/><circle cx="236.2" cy="1382.4" r="4.25"/><circle cx="236.2" cy="1411.2" r="4.25"/><circle cx="236.2" cy="1445.3" r="4.25"/><circle cx="236.2" cy="1457.3" r="4.25"/><circle cx="212.4" cy="1465.7" r="4.25"/><circle cx="228.1" cy="1472.4" r="4.25"/><circle cx="244" cy="1474.6" r="4.25"/><circle cx="260.2" cy="1472.4" r="4.25"/><circle cx="212.4" cy="1476.9" r="4.25"/>
<path d="M305.9 1419H333.5M305.9 1440.3H333.5M319.7 1419V1440.3" fill="none" stroke-width="1.6"/>
<line x1="291.9" y1="1429.6" x2="347.5" y2="1429.6" stroke-width="3.2"/>
<circle cx="319.7" cy="1372.9" r="4.25"/><circle cx="319.7" cy="1406.7" r="4.25"/><circle cx="336.5" cy="1426.3" r="4.25"/><circle cx="303.2" cy="1429.1" r="4.25"/><circle cx="319.7" cy="1433.8" r="4.25"/><circle cx="311.6" cy="1451.4" r="4.25"/><circle cx="328.1" cy="1454.8" r="4.25"/><circle cx="319.7" cy="1464.3" r="4.25"/>
<path d="M389.8 1438.9H417.4M389.8 1452.6H417.4M403.6 1438.9V1452.6" fill="none" stroke-width="1.6"/>
<line x1="375.8" y1="1445.8" x2="431.4" y2="1445.8" stroke-width="3.2"/>
<circle cx="403.6" cy="1423.5" r="4.25"/><circle cx="387.1" cy="1428" r="4.25"/><circle cx="420.4" cy="1430.8" r="4.25"/><circle cx="420.4" cy="1451.2" r="4.25"/><circle cx="403.6" cy="1459" r="4.25"/><circle cx="387.1" cy="1464.6" r="4.25"/><circle cx="420.4" cy="1463.7" r="4.25"/>
<path d="M473.3 1451.7H500.9M473.3 1462.9H500.9M487.1 1451.7V1462.9" fill="none" stroke-width="1.6"/>
<line x1="459.3" y1="1457" x2="514.9" y2="1457" stroke-width="3.2"/>
<circle cx="479.3" cy="1430.8" r="4.25"/><circle cx="495.5" cy="1437.7" r="4.25"/><circle cx="487.1" cy="1453.4" r="4.25"/><circle cx="479.3" cy="1462.3" r="4.25"/><circle cx="511.5" cy="1462.9" r="4.25"/><circle cx="463.7" cy="1467.9" r="4.25"/><circle cx="495.5" cy="1469.3" r="4.25"/><circle cx="479.3" cy="1476.3" r="4.25"/>
<path d="M557.2 1453.4H584.8M557.2 1462.9H584.8M571 1453.4V1462.9" fill="none" stroke-width="1.6"/>
<line x1="543.2" y1="1457.9" x2="598.8" y2="1457.9" stroke-width="3.2"/>
<circle cx="579.4" cy="1440.8" r="4.25"/><circle cx="562.9" cy="1444.4" r="4.25"/><circle cx="554.5" cy="1452.8" r="4.25"/><circle cx="587.8" cy="1460.1" r="4.25"/><circle cx="571" cy="1467.9" r="4.25"/><circle cx="587.8" cy="1470.2" r="4.25"/><circle cx="554.5" cy="1472.1" r="4.25"/>
<text x="152.4" y="1537.5" font-size="22.4" text-anchor="middle">Sham</text>
<text x="236.2" y="1537.5" font-size="22.4" text-anchor="middle">Vehicle</text>
<text x="402.3" y="1537.5" font-size="22.4" text-anchor="middle">0.15</text>
<text x="487.3" y="1538.8" font-size="22.4" text-anchor="middle">1.5</text>
<text x="570.5" y="1537.5" font-size="22.4" text-anchor="middle">15</text>
<text x="319.7" y="1556.8" font-size="23" text-anchor="middle">600 mg/kg</text>
<text x="320.2" y="1583" font-size="23" text-anchor="middle">Vancomycin</text>
<text x="489.6" y="1604" font-size="23" text-anchor="middle">D-pleurocidin-KR (mg/kg)</text>
<path d="M385.3 1555.6V1579.6M385.3 1567.6H584M584 1555.6V1579.6" fill="none" stroke-width="3.0"/>
<path d="M205.1 1612.1V1636.1M205.1 1624.1H585.4M585.4 1612.1V1636.1" fill="none" stroke-width="3.0"/>
<text x="407.2" y="1660" font-size="23" text-anchor="middle">EMRSA-15 (10<tspan font-size="17" dy="-10.8">6</tspan><tspan dy="10.8"> cfu/mouse)</tspan></text>
</g>
<g id="panel-h">
<text x="694" y="1139.9" font-size="31" font-weight="bold">h</text>
<text x="1034.7" y="1181.1" font-size="34" text-anchor="middle" font-weight="bold">BAL KC (pg/ug)</text>
<path d="M768.8 1218.2V1495.6H1300" fill="none" stroke-width="3.0"/>
<line x1="756.8" y1="1219.7" x2="768.8" y2="1219.7" stroke-width="3.0"/>
<text x="754.4" y="1226.9" font-size="20.7" text-anchor="end" font-weight="bold">1500</text>
<line x1="756.8" y1="1311.5" x2="768.8" y2="1311.5" stroke-width="3.0"/>
<text x="754.4" y="1318.7" font-size="20.7" text-anchor="end" font-weight="bold">1000</text>
<line x1="756.8" y1="1403.6" x2="768.8" y2="1403.6" stroke-width="3.0"/>
<text x="754.4" y="1410.8" font-size="20.7" text-anchor="end" font-weight="bold">500</text>
<line x1="756.8" y1="1495.6" x2="770.3" y2="1495.6" stroke-width="3.0"/>
<text x="754.4" y="1502.8" font-size="20.7" text-anchor="end" font-weight="bold">0</text>
<line x1="824.5" y1="1495.6" x2="824.5" y2="1507.6" stroke-width="3.0"/>
<line x1="908.1" y1="1495.6" x2="908.1" y2="1507.6" stroke-width="3.0"/>
<line x1="991.7" y1="1495.6" x2="991.7" y2="1507.6" stroke-width="3.0"/>
<line x1="1075.4" y1="1495.6" x2="1075.4" y2="1507.6" stroke-width="3.0"/>
<line x1="1159" y1="1495.6" x2="1159" y2="1507.6" stroke-width="3.0"/>
<line x1="1242.6" y1="1495.6" x2="1242.6" y2="1507.6" stroke-width="3.0"/>
<text transform="translate(692.8 1358.2) rotate(-90)" font-size="26.2" text-anchor="middle">KC (pg/ug protein)</text>
<path d="M810.5 1431.9H838.1M810.5 1444.7H838.1M824.3 1431.9V1444.7" fill="none" stroke-width="1.6"/>
<line x1="796.5" y1="1438.3" x2="852.1" y2="1438.3" stroke-width="3.2"/>
<circle cx="824.3" cy="1400.8" r="4.25"/><circle cx="824.3" cy="1414.8" r="4.25"/><circle cx="815.9" cy="1424.6" r="4.25"/><circle cx="832.7" cy="1431" r="4.25"/><circle cx="815.9" cy="1434.9" r="4.25"/><circle cx="815.9" cy="1445.8" r="4.25"/><circle cx="832.7" cy="1448.4" r="4.25"/><circle cx="815.9" cy="1454.8" r="4.25"/><circle cx="832.7" cy="1461.8" r="4.25"/><circle cx="815.9" cy="1468.8" r="4.25"/>
<path d="M894.3 1383H921.9M894.3 1415.1H921.9M908.1 1383V1415.1" fill="none" stroke-width="1.6"/>
<line x1="880.3" y1="1399.2" x2="935.9" y2="1399.2" stroke-width="3.2"/>
<circle cx="908.1" cy="1299.1" r="4.25"/><circle cx="908.1" cy="1352.5" r="4.25"/><circle cx="899.7" cy="1362" r="4.25"/><circle cx="916.5" cy="1362" r="4.25"/><circle cx="899.7" cy="1388.5" r="4.25"/><circle cx="916.5" cy="1388.8" r="4.25"/><circle cx="908.1" cy="1422.6" r="4.25"/><circle cx="899.7" cy="1446.1" r="4.25"/><circle cx="916.5" cy="1444.7" r="4.25"/><circle cx="899.7" cy="1462.6" r="4.25"/><circle cx="916.5" cy="1461.5" r="4.25"/>
<path d="M977.9 1434.9H1005.5M977.9 1449.8H1005.5M991.7 1434.9V1449.8" fill="none" stroke-width="1.6"/>
<line x1="963.9" y1="1442.2" x2="1019.5" y2="1442.2" stroke-width="3.2"/>
<circle cx="991.7" cy="1405.3" r="4.25"/><circle cx="983.3" cy="1428" r="4.25"/><circle cx="1000.4" cy="1432.7" r="4.25"/><circle cx="983.3" cy="1439.4" r="4.25"/><circle cx="1000.4" cy="1446.1" r="4.25"/><circle cx="983.3" cy="1453.7" r="4.25"/><circle cx="1000.4" cy="1457.6" r="4.25"/><circle cx="991.7" cy="1478.5" r="4.25"/>
<path d="M1061.7 1404.8H1089.3M1061.7 1432.1H1089.3M1075.5 1404.8V1432.1" fill="none" stroke-width="1.6"/>
<line x1="1047.7" y1="1418.2" x2="1103.3" y2="1418.2" stroke-width="3.2"/>
<circle cx="1067.2" cy="1376" r="4.25"/><circle cx="1067.2" cy="1385.5" r="4.25"/><circle cx="1083.9" cy="1383" r="4.25"/><circle cx="1075.5" cy="1424" r="4.25"/><circle cx="1075.5" cy="1446.7" r="4.25"/><circle cx="1067.2" cy="1457.3" r="4.25"/><circle cx="1083.9" cy="1457" r="4.25"/>
<path d="M1145.3 1452H1172.9M1145.3 1462.3H1172.9M1159.1 1452V1462.3" fill="none" stroke-width="1.6"/>
<line x1="1131.3" y1="1456.7" x2="1186.9" y2="1456.7" stroke-width="3.2"/>
<circle cx="1147.1" cy="1443.6" r="4.25"/><circle cx="1135.6" cy="1448.9" r="4.25"/><circle cx="1170.8" cy="1446.4" r="4.25"/><circle cx="1183.4" cy="1447" r="4.25"/><circle cx="1159.1" cy="1451.7" r="4.25"/><circle cx="1159.1" cy="1463.7" r="4.25"/><circle cx="1159.1" cy="1472.7" r="4.25"/><circle cx="1159.1" cy="1482.7" r="4.25"/>
<path d="M1228.9 1453.7H1256.5M1228.9 1461.8H1256.5M1242.7 1453.7V1461.8" fill="none" stroke-width="1.6"/>
<line x1="1214.9" y1="1457.6" x2="1270.5" y2="1457.6" stroke-width="3.2"/>
<circle cx="1242.7" cy="1434.9" r="4.25"/><circle cx="1251.1" cy="1454.8" r="4.25"/><circle cx="1218.9" cy="1458.7" r="4.25"/><circle cx="1234.8" cy="1462.3" r="4.25"/><circle cx="1251.1" cy="1464.6" r="4.25"/><circle cx="1267.3" cy="1463.7" r="4.25"/><circle cx="1218.9" cy="1467.4" r="4.25"/>
<text x="818.4" y="1273.1" font-size="25" letter-spacing="2.97" style="stroke:#231f20;stroke-width:0.35px">*</text>
<text x="986.5" y="1279.5" font-size="25" letter-spacing="2.97" style="stroke:#231f20;stroke-width:0.35px">*</text>
<text x="1152.4" y="1287.1" font-size="25" letter-spacing="2.97" style="stroke:#231f20;stroke-width:0.35px">**</text>
<text x="1233.7" y="1292.7" font-size="25" letter-spacing="2.97" style="stroke:#231f20;stroke-width:0.35px">**</text>
<text x="824.4" y="1537.5" font-size="22.4" text-anchor="middle">Sham</text>
<text x="908.2" y="1537.5" font-size="22.4" text-anchor="middle">Vehicle</text>
<text x="1074.3" y="1537.5" font-size="22.4" text-anchor="middle">0.15</text>
<text x="1159.3" y="1538.8" font-size="22.4" text-anchor="middle">1.5</text>
<text x="1242.5" y="1537.5" font-size="22.4" text-anchor="middle">15</text>
<text x="991.7" y="1556.8" font-size="23" text-anchor="middle">600 mg/kg</text>
<text x="992.2" y="1583" font-size="23" text-anchor="middle">Vancomycin</text>
<text x="1161.6" y="1604" font-size="23" text-anchor="middle">D-pleurocidin-KR (mg/kg)</text>
<path d="M1057.3 1555.6V1579.6M1057.3 1567.6H1256M1256 1555.6V1579.6" fill="none" stroke-width="3.0"/>
<path d="M877.1 1612.1V1636.1M877.1 1624.1H1257.4M1257.4 1612.1V1636.1" fill="none" stroke-width="3.0"/>
<text x="1080.4" y="1660" font-size="23" text-anchor="middle">EMRSA-15 (10<tspan font-size="17" dy="-10.8">6</tspan><tspan dy="10.8"> cfu/mouse)</tspan></text>
</g>
<g id="panel-i">
<text x="1352.8" y="1139.9" font-size="31" font-weight="bold">i</text>
<text x="1701.2" y="1181.1" font-size="34" text-anchor="middle" font-weight="bold">BAL MCP-1 (pg/ug)</text>
<path d="M1435.8 1218.2V1495.6H1968" fill="none" stroke-width="3.0"/>
<line x1="1423.8" y1="1219.7" x2="1435.8" y2="1219.7" stroke-width="3.0"/>
<text x="1421.4" y="1226.9" font-size="20.7" text-anchor="end" font-weight="bold">800</text>
<line x1="1423.8" y1="1288.6" x2="1435.8" y2="1288.6" stroke-width="3.0"/>
<text x="1421.4" y="1295.8" font-size="20.7" text-anchor="end" font-weight="bold">600</text>
<line x1="1423.8" y1="1357.5" x2="1435.8" y2="1357.5" stroke-width="3.0"/>
<text x="1421.4" y="1364.7" font-size="20.7" text-anchor="end" font-weight="bold">400</text>
<line x1="1423.8" y1="1426.6" x2="1435.8" y2="1426.6" stroke-width="3.0"/>
<text x="1421.4" y="1433.8" font-size="20.7" text-anchor="end" font-weight="bold">200</text>
<line x1="1423.8" y1="1495.6" x2="1437.3" y2="1495.6" stroke-width="3.0"/>
<text x="1421.4" y="1502.8" font-size="20.7" text-anchor="end" font-weight="bold">0</text>
<line x1="1491.5" y1="1495.6" x2="1491.5" y2="1507.6" stroke-width="3.0"/>
<line x1="1575.1" y1="1495.6" x2="1575.1" y2="1507.6" stroke-width="3.0"/>
<line x1="1658.7" y1="1495.6" x2="1658.7" y2="1507.6" stroke-width="3.0"/>
<line x1="1742.4" y1="1495.6" x2="1742.4" y2="1507.6" stroke-width="3.0"/>
<line x1="1826" y1="1495.6" x2="1826" y2="1507.6" stroke-width="3.0"/>
<line x1="1909.6" y1="1495.6" x2="1909.6" y2="1507.6" stroke-width="3.0"/>
<text transform="translate(1370 1357) rotate(-90)" font-size="26.2" text-anchor="middle">MCP-1 (pg/ug protein)</text>
<path d="M1477.1 1467.1H1504.7M1477.1 1474.3H1504.7M1490.9 1467.1V1474.3" fill="none" stroke-width="1.6"/>
<line x1="1463.1" y1="1470.4" x2="1518.7" y2="1470.4" stroke-width="3.2"/>
<circle cx="1490.9" cy="1443.3" r="4.25"/><circle cx="1490.9" cy="1454.2" r="4.25"/><circle cx="1478.9" cy="1462.6" r="4.25"/><circle cx="1490.9" cy="1465.7" r="4.25"/><circle cx="1503" cy="1464.3" r="4.25"/><circle cx="1514.7" cy="1474.9" r="4.25"/><circle cx="1478.9" cy="1479.7" r="4.25"/><circle cx="1490.9" cy="1481.3" r="4.25"/><circle cx="1503" cy="1479.9" r="4.25"/><circle cx="1467.2" cy="1485.2" r="4.25"/><circle cx="1514.7" cy="1486.4" r="4.25"/>
<path d="M1561 1400.8H1588.6M1561 1448.6H1588.6M1574.8 1400.8V1448.6" fill="none" stroke-width="1.6"/>
<line x1="1547" y1="1424.9" x2="1602.6" y2="1424.9" stroke-width="3.2"/>
<circle cx="1574.8" cy="1244.1" r="4.25"/><circle cx="1574.8" cy="1314.5" r="4.25"/><circle cx="1574.8" cy="1382.7" r="4.25"/><circle cx="1574.8" cy="1425.4" r="4.25"/><circle cx="1566.4" cy="1458.7" r="4.25"/><circle cx="1583.2" cy="1457.9" r="4.25"/><circle cx="1558" cy="1468.5" r="4.25"/><circle cx="1591.6" cy="1475.5" r="4.25"/><circle cx="1574.8" cy="1477.7" r="4.25"/><circle cx="1558" cy="1485.5" r="4.25"/><circle cx="1591.6" cy="1483.9" r="4.25"/>
<path d="M1644.6 1440.3H1672.2M1644.6 1462.1H1672.2M1658.4 1440.3V1462.1" fill="none" stroke-width="1.6"/>
<line x1="1630.6" y1="1450.9" x2="1686.2" y2="1450.9" stroke-width="3.2"/>
<circle cx="1658.6" cy="1393.3" r="4.25"/><circle cx="1658.6" cy="1432.7" r="4.25"/><circle cx="1641.9" cy="1455.9" r="4.25"/><circle cx="1675.4" cy="1461.8" r="4.25"/><circle cx="1658.6" cy="1469.3" r="4.25"/><circle cx="1675.4" cy="1470.7" r="4.25"/><circle cx="1641.9" cy="1473.8" r="4.25"/>
<path d="M1728.4 1468.8H1756M1728.4 1475.5H1756M1742.2 1468.8V1475.5" fill="none" stroke-width="1.6"/>
<line x1="1714.4" y1="1471.8" x2="1770" y2="1471.8" stroke-width="3.2"/>
<circle cx="1750" cy="1457.9" r="4.25"/><circle cx="1734.1" cy="1465.4" r="4.25"/><circle cx="1718.4" cy="1467.1" r="4.25"/><circle cx="1734.1" cy="1474.3" r="4.25"/><circle cx="1766" cy="1475.5" r="4.25"/><circle cx="1718.4" cy="1482.7" r="4.25"/><circle cx="1750" cy="1482.5" r="4.25"/>
<path d="M1812 1468.5H1839.6M1812 1478.3H1839.6M1825.8 1468.5V1478.3" fill="none" stroke-width="1.6"/>
<line x1="1798" y1="1473.5" x2="1853.6" y2="1473.5" stroke-width="3.2"/>
<circle cx="1817.7" cy="1456.7" r="4.25"/><circle cx="1834.4" cy="1456.5" r="4.25"/><circle cx="1809.6" cy="1469.6" r="4.25"/><circle cx="1842.5" cy="1476.3" r="4.25"/><circle cx="1825.8" cy="1481.9" r="4.25"/><circle cx="1842.5" cy="1485" r="4.25"/><circle cx="1809.6" cy="1489.2" r="4.25"/>
<path d="M1895.8 1480.2H1923.4M1895.8 1482.7H1923.4M1909.6 1480.2V1482.7" fill="none" stroke-width="1.6"/>
<line x1="1881.8" y1="1481.3" x2="1937.4" y2="1481.3" stroke-width="3.2"/>
<circle cx="1895.6" cy="1477.1" r="4.25"/><circle cx="1924.1" cy="1477.1" r="4.25"/><circle cx="1914.1" cy="1480.5" r="4.25"/><circle cx="1933.7" cy="1483.3" r="4.25"/><circle cx="1886.1" cy="1484.7" r="4.25"/><circle cx="1904.9" cy="1484.4" r="4.25"/><circle cx="1924.1" cy="1485.8" r="4.25"/>
<text x="1484.7" y="1255.5" font-size="25" letter-spacing="2.97" style="stroke:#231f20;stroke-width:0.35px">*</text>
<text x="1904.5" y="1259.1" font-size="25" letter-spacing="2.97" style="stroke:#231f20;stroke-width:0.35px">*</text>
<text x="1491.4" y="1537.5" font-size="22.4" text-anchor="middle">Sham</text>
<text x="1575.2" y="1537.5" font-size="22.4" text-anchor="middle">Vehicle</text>
<text x="1741.3" y="1537.5" font-size="22.4" text-anchor="middle">0.15</text>
<text x="1826.3" y="1538.8" font-size="22.4" text-anchor="middle">1.5</text>
<text x="1909.5" y="1537.5" font-size="22.4" text-anchor="middle">15</text>
<text x="1658.7" y="1556.8" font-size="23" text-anchor="middle">600 mg/kg</text>
<text x="1659.2" y="1583" font-size="23" text-anchor="middle">Vancomycin</text>
<text x="1828.6" y="1604" font-size="23" text-anchor="middle">D-pleurocidin-KR (mg/kg)</text>
<path d="M1724.3 1555.6V1579.6M1724.3 1567.6H1923M1923 1555.6V1579.6" fill="none" stroke-width="3.0"/>
<path d="M1544.1 1612.1V1636.1M1544.1 1624.1H1924.4M1924.4 1612.1V1636.1" fill="none" stroke-width="3.0"/>
<text x="1746.2" y="1660" font-size="23" text-anchor="middle">EMRSA-15 (10<tspan font-size="17" dy="-10.8">6</tspan><tspan dy="10.8"> cfu/mouse)</tspan></text>
</g>
</svg>
</body></html>
